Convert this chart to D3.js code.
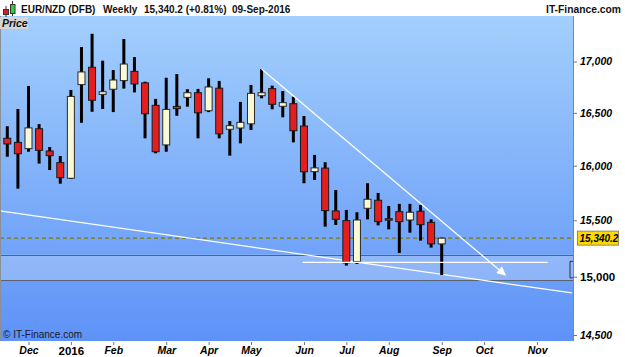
<!DOCTYPE html>
<html><head><meta charset="utf-8">
<script src="https://cdn.jsdelivr.net/npm/d3@7"></script>
<style>
body{margin:0;background:#fff}
svg{display:block;font-family:"Liberation Sans",Arial,sans-serif}
</style>
</head><body><svg id="c" width="625" height="357"></svg>
<script>
// ---- data ----
const weeks = ["2015-11-23","2015-11-30","2015-12-07","2015-12-14","2015-12-21","2015-12-28",
 "2016-01-04","2016-01-11","2016-01-18","2016-01-25","2016-02-01","2016-02-08","2016-02-15",
 "2016-02-22","2016-02-29","2016-03-07","2016-03-14","2016-03-21","2016-03-28","2016-04-04",
 "2016-04-11","2016-04-18","2016-04-25","2016-05-02","2016-05-09","2016-05-16","2016-05-23",
 "2016-05-30","2016-06-06","2016-06-13","2016-06-20","2016-06-27","2016-07-04","2016-07-11",
 "2016-07-18","2016-07-25","2016-08-01","2016-08-08","2016-08-15","2016-08-22","2016-08-29",
 "2016-09-05"];
const open  = [16258,16219,16160,16348,16138,16029,15884,16773,16943,16678,16728,16812,16903,
 16790,16572,16195,16562,16649,16694,16520,16738,16343,16355,16395,16665,16734,16563,16588,
 16374,15945,15978,15585,15497,15132,15609,15682,15515,15578,15503,15582,15482,15289];
const high  = [16372,16537,16760,16392,16175,16091,16721,17144,17276,17008,16916,17224,17044,
 16802,16634,16840,16876,16728,16731,16835,16809,16421,16605,16770,16926,16763,16711,16656,
 16470,16101,16033,15776,15594,15573,15838,15749,15630,15649,15649,15640,15509,15345];
const low   = [16084,15788,16131,16020,15960,15834,15877,16405,16510,16537,16507,16734,16697,
 16257,16116,16131,16472,16559,16257,16507,16257,16094,16210,16336,16640,16534,16457,16219,
 15838,15868,15443,15458,15097,15112,15509,15455,15419,15209,15389,15318,15256,15015];
const close = [16204,16112,16356,16144,16094,15889,16658,16897,16621,16704,16818,16975,16779,
 16491,16131,16533,16540,16694,16500,16750,16300,16377,16409,16688,16694,16582,16598,16329,
 15944,15980,15588,15509,15121,15503,15691,15488,15508,15488,15573,15461,15289,15340.2];

const priceTicks = [14500,15000,15500,16000,16500,17000];
const monthTicks = ["2015-12-07","2016-01-04","2016-02-01","2016-03-07","2016-04-04","2016-05-02",
 "2016-06-06","2016-07-04","2016-08-01","2016-09-05","2016-10-03","2016-11-07"];
const monthLabels = ["Dec","2016","Feb","Mar","Apr","May","Jun","Jul","Aug","Sep","Oct","Nov"];

const lastPrice = 15340.2;
const titleParts = ["EUR/NZD (DFB)","Weekly","15,340.2 (+0.81%)","09-Sep-2016"];
const trendDown = [{d:"2016-05-09",p:16926},{d:"2016-10-17",p:15015}];
const supportLine = [{d:"2015-11-18",p:15585},{d:"2016-11-30",p:14859}];
const flatLine = [{d:"2016-06-05",p:15126},{d:"2016-11-14",p:15126}];
const zone = [14968, 15195];

// ---- layout ----
const W = 625, H = 357;
const plot = {l:0, t:16, r:573, b:341};
const parse = d3.utcParse("%Y-%m-%d");
const candles = weeks.map((w,i)=>({d:parse(w),o:open[i],h:high[i],l:low[i],c:close[i]}));

const x = d3.scaleUtc().domain([parse(weeks[0]), parse(weeks[weeks.length-1])]).range([7.3, 441.7]);
const y = d3.scaleLog().domain([14500, 17000]).range([335, 61.5]);

const svg = d3.select("#c");
const defs = svg.append("defs");
const grad = defs.append("linearGradient").attr("id","bg").attr("x1",0).attr("y1",0).attr("x2",0).attr("y2",1);
grad.append("stop").attr("offset","0%").attr("stop-color","#a3cffc");
grad.append("stop").attr("offset","100%").attr("stop-color","#5e92f7");
defs.append("clipPath").attr("id","clip").append("rect")
  .attr("x",plot.l).attr("y",plot.t).attr("width",plot.r-plot.l).attr("height",plot.b-plot.t);
defs.append("marker").attr("id","arrow").attr("viewBox","0 0 10 10").attr("refX",9).attr("refY",5)
  .attr("markerWidth",11).attr("markerHeight",9).attr("markerUnits","userSpaceOnUse").attr("orient","auto")
  .append("path").attr("d","M0,0 L10,5 L0,10 Z").attr("fill","#fff");

svg.append("rect").attr("width",W).attr("height",H).attr("fill","#fff");
svg.append("rect").attr("x",plot.l).attr("y",plot.t).attr("width",plot.r-plot.l).attr("height",plot.b-plot.t)
  .attr("fill","url(#bg)");

const g = svg.append("g").attr("clip-path","url(#clip)");

// zone
g.append("rect").attr("x",plot.l).attr("width",plot.r-plot.l)
  .attr("y",y(zone[1])).attr("height",y(zone[0])-y(zone[1]))
  .attr("fill","#ffffff").attr("fill-opacity",0.24);
zone.forEach(z=>g.append("line").attr("x1",plot.l).attr("x2",plot.r)
  .attr("y1",Math.round(y(z))+0.5).attr("y2",Math.round(y(z))+0.5)
  .attr("stroke","#5a6270").attr("stroke-width",1));

// last price dashed line
g.append("line").attr("x1",plot.l).attr("x2",plot.r)
  .attr("y1",y(lastPrice)).attr("y2",y(lastPrice))
  .attr("stroke","#7d7a00").attr("stroke-width",1.2).attr("stroke-dasharray","4,3");

// support line
const lineGen = d3.line().x(d=>x(parse(d.d))).y(d=>y(d.p));
g.append("path").attr("d",lineGen(supportLine)).attr("stroke","#fff").attr("stroke-width",1.2).attr("fill","none");

// candles
const cg = g.append("g");
cg.selectAll("line.wick").data(candles).join("line").attr("class","wick")
  .attr("x1",d=>x(d.d)).attr("x2",d=>x(d.d))
  .attr("y1",d=>y(d.h)).attr("y2",d=>y(d.l))
  .attr("stroke","#000").attr("stroke-width",3);
cg.selectAll("rect.body").data(candles).join("rect").attr("class","body")
  .attr("x",d=>x(d.d)-3.5).attr("width",7)
  .attr("y",d=>y(Math.max(d.o,d.c)))
  .attr("height",d=>Math.max(1.5, y(Math.min(d.o,d.c))-y(Math.max(d.o,d.c))))
  .attr("fill",d=>d.c>=d.o ? "#fbf8d6" : "#e41e1e")
  .attr("stroke",d=>d.c>=d.o ? "#2a2a2a" : "#1a1a1a").attr("stroke-width",1);

// trend lines
g.append("path").attr("d",lineGen(trendDown)).attr("stroke","#fff").attr("stroke-width",1.3)
  .attr("fill","none").attr("marker-end","url(#arrow)");
g.append("path").attr("d",lineGen(flatLine)).attr("stroke","#fff").attr("stroke-width",1.3).attr("fill","none");

// small bracket at right edge of zone
svg.append("path").attr("d",`M${plot.r},${y(15126)-1} H${plot.r-3} V${y(14990)} H${plot.r}`)
  .attr("stroke","#333").attr("fill","none").attr("stroke-width",1);

// borders
svg.append("line").attr("x1",0.5).attr("x2",0.5).attr("y1",plot.t).attr("y2",plot.b).attr("stroke","#8a9099");
svg.append("line").attr("x1",plot.r+0.5).attr("x2",plot.r+0.5).attr("y1",plot.t).attr("y2",plot.b).attr("stroke","#7d8796");

// copyright
svg.append("text").attr("x",3).attr("y",338).attr("font-size",10).attr("fill","#1a1a2a").text("© IT-Finance.com");

// y axis
const yAxis = d3.axisRight(y).tickValues(priceTicks).tickFormat(d3.format(",")).tickSize(4).tickPadding(3);
const ya = svg.append("g").attr("transform",`translate(${plot.r},0)`).call(yAxis);
ya.select(".domain").remove();
ya.selectAll(".tick line").attr("stroke","#777");
ya.selectAll(".tick text").attr("fill","#000").attr("font-family","'Liberation Sans',Arial,sans-serif")
  .attr("font-weight","bold")
  .attr("font-style",d=>d===15000?"normal":"italic")
  .attr("font-size",d=>d===15000?11.5:10.5);

// last price box
svg.append("rect").attr("x",577.5).attr("y",y(lastPrice)-7).attr("width",41).attr("height",14)
  .attr("fill","#ffd800").attr("stroke","#8a8a70").attr("stroke-width",1);
svg.append("text").attr("x",579.5).attr("y",y(lastPrice)+3.8).attr("font-size",10).attr("font-weight","bold")
  .attr("font-style","italic").attr("fill","#000").text(d3.format(",.1f")(lastPrice));

// x axis
const xAxis = d3.axisBottom(x).tickValues(monthTicks.map(parse)).tickFormat((d,i)=>monthLabels[i]).tickSize(3).tickPadding(3);
const xa = svg.append("g").attr("transform",`translate(0,${plot.b+1})`).call(xAxis);
xa.select(".domain").remove();
xa.selectAll(".tick line").attr("stroke","#777");
xa.selectAll(".tick text").attr("fill","#000").attr("font-family","'Liberation Sans',Arial,sans-serif")
  .attr("font-weight","bold")
  .attr("font-style",(d,i)=>monthLabels[i]==="2016"?"normal":"italic")
  .attr("font-size",(d,i)=>monthLabels[i]==="2016"?11.5:10.5)
  .attr("dy","0.6em");

// header
const hdr = svg.append("g");
hdr.append("line").attr("x1",6).attr("x2",6).attr("y1",6).attr("y2",17).attr("stroke","#333").attr("stroke-width",1);
hdr.append("rect").attr("x",3.5).attr("y",9.5).attr("width",5).attr("height",5).attr("fill","#e41e1e").attr("stroke","#333");
hdr.append("line").attr("x1",12.5).attr("x2",12.5).attr("y1",1).attr("y2",16).attr("stroke","#333").attr("stroke-width",1);
hdr.append("rect").attr("x",10.5).attr("y",4.5).attr("width",4.5).attr("height",9).attr("fill","#2fd13a").attr("stroke","#333");
const hx = [21, 103, 144, 232];
titleParts.forEach((t,i)=>hdr.append("text").attr("x",hx[i]).attr("y",12.5).attr("font-size",10)
  .attr("font-weight","bold").attr("fill","#111").text(t));
hdr.append("text").attr("x",621).attr("y",12.5).attr("text-anchor","end").attr("font-size",10.3)
  .attr("font-weight","bold").attr("fill","#111").text("IT-Finance.com");

// Price label
svg.append("rect").attr("x",0).attr("y",17).attr("width",28).attr("height",12).attr("fill","#d6d6d6");
svg.append("text").attr("x",2).attr("y",27).attr("font-size",10.5).attr("font-weight","bold")
  .attr("font-style","italic").attr("fill","#111").text("Price");
</script></body></html>
